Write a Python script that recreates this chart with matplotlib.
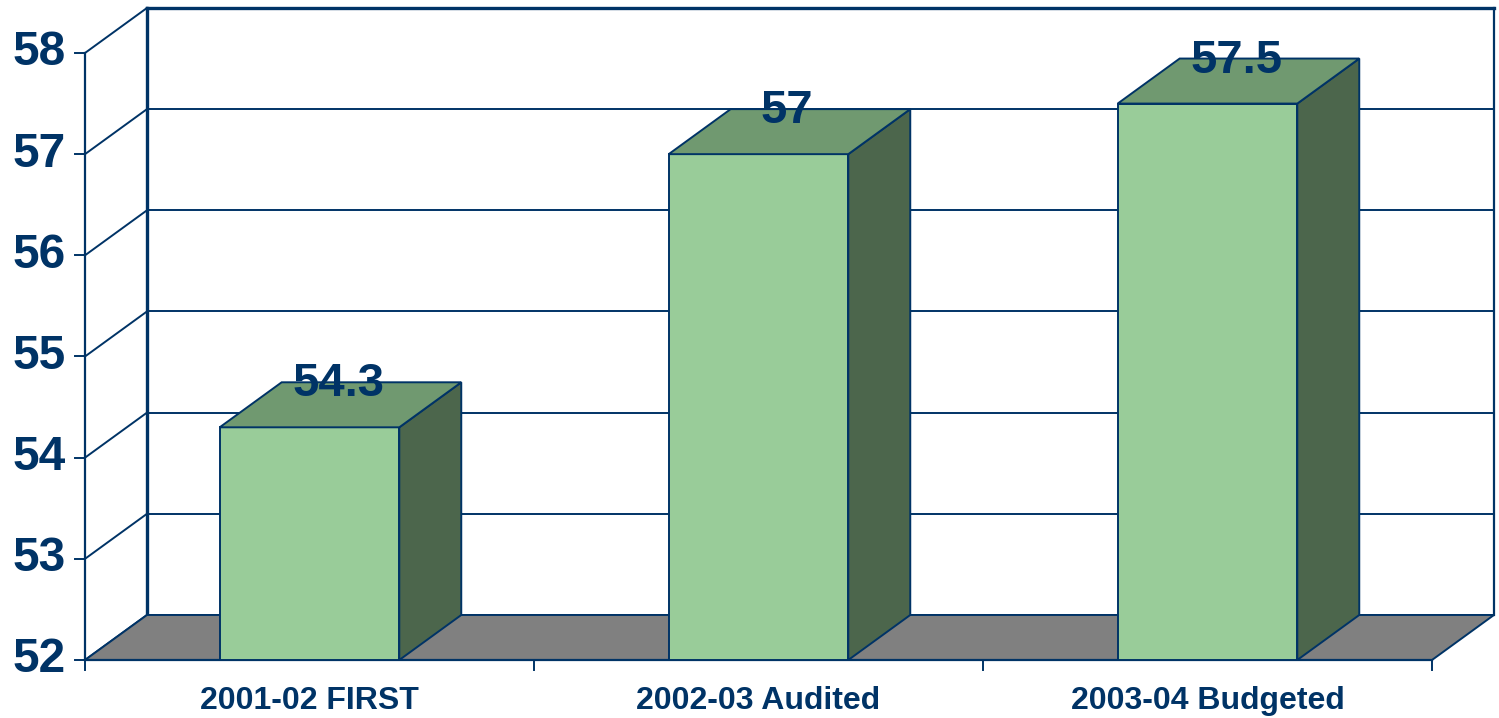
import matplotlib.pyplot as plt
from matplotlib.patches import Polygon

# chart data
categories = ["2001-02 FIRST", "2002-03 Audited", "2003-04 Budgeted"]
values = [54.3, 57, 57.5]
y_ticks = [52, 53, 54, 55, 56, 57, 58]

NAVY = "#003366"
FRONT = "#99cc99"
TOP = "#709970"
SIDE = "#4c664c"
FLOOR = "#808080"

ymin, ymax = 52, 58
dx, dy = 0.138, 0.445      # depth offset in data units
bar_w = 0.4

plt.rcParams["font.family"] = ["Liberation Sans", "DejaVu Sans"]
fig = plt.figure(figsize=(14.99, 7.18), dpi=100)
ax = fig.add_axes([0, 0, 1, 1])
ax.set_xlim(-85 / 449, (1499 - 85) / 449)
ax.set_ylim(52 - 58 / 101.17, 52 + 660 / 101.17)
ax.axis("off")

n = len(categories)

# back wall
ax.add_patch(Polygon([(dx, ymin + dy), (n + dx, ymin + dy), (n + dx, ymax + dy), (dx, ymax + dy)],
                     closed=True, facecolor="white", edgecolor="none", zorder=1))

# gridlines on back wall and side wall
for v in y_ticks:
    ax.plot([dx, n + dx], [v + dy, v + dy], color=NAVY, lw=1.4, zorder=2)
    ax.plot([0, dx], [v, v + dy], color=NAVY, lw=1.4, zorder=2)

# wall edges
ax.plot([dx, dx], [ymin + dy, ymax + dy], color=NAVY, lw=2.4, zorder=2)
ax.plot([dx, n + dx], [ymax + dy, ymax + dy], color=NAVY, lw=2.4, zorder=2)
ax.plot([n + dx, n + dx], [ymin + dy, ymax + dy], color=NAVY, lw=1.6, zorder=2)

# floor
ax.add_patch(Polygon([(0, ymin), (n, ymin), (n + dx, ymin + dy), (dx, ymin + dy)],
                     closed=True, facecolor=FLOOR, edgecolor=NAVY, lw=1.4, zorder=3))

# front axis
ax.plot([0, 0], [ymin, ymax], color=NAVY, lw=1.6, zorder=4)
ax.plot([0, n], [ymin, ymin], color=NAVY, lw=1.6, zorder=4)
for v in y_ticks:
    ax.plot([-0.022, 0], [v, v], color=NAVY, lw=1.4, zorder=4)
    ax.text(-0.043, v, str(v), ha="right", va="center", fontsize=34.5,
            fontweight="bold", color=NAVY)
for i in range(n + 1):
    ax.plot([i, i], [ymin, ymin - 0.1], color=NAVY, lw=1.4, zorder=4)

# bars
for i, (cat, v) in enumerate(zip(categories, values)):
    c = i + 0.5
    x0, x1 = c - bar_w / 2, c + bar_w / 2
    ax.add_patch(Polygon([(x0, ymin), (x1, ymin), (x1, v), (x0, v)], closed=True,
                         facecolor=FRONT, edgecolor=NAVY, lw=1.4, zorder=5))
    ax.add_patch(Polygon([(x1, ymin), (x1 + dx, ymin + dy), (x1 + dx, v + dy), (x1, v)],
                         closed=True, facecolor=SIDE, edgecolor=NAVY, lw=1.4, zorder=5))
    ax.add_patch(Polygon([(x0, v), (x1, v), (x1 + dx, v + dy), (x0 + dx, v + dy)],
                         closed=True, facecolor=TOP, edgecolor=NAVY, lw=1.4, zorder=5))
    ax.text(c + dx * 0.5 - 0.005, v + dy - 0.02, f"{v:g}", ha="center", va="center",
            fontsize=34, fontweight="bold", color=NAVY, zorder=6)
    ax.text(c, ymin - 0.41, cat, ha="center", va="center", fontsize=23,
            fontweight="bold", color=NAVY)

fig.savefig("out.png", dpi=100)
